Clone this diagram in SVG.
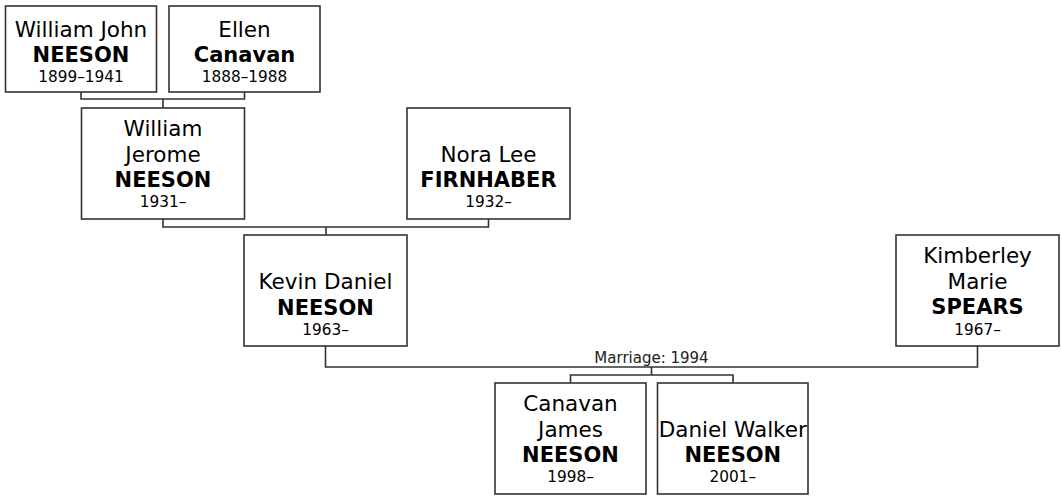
<svg xmlns="http://www.w3.org/2000/svg" width="1062" height="497" viewBox="0 0 1062 497">
<style>
.box{fill:#fff;stroke:#333;stroke-width:1.6}
.ln{fill:none;stroke:#333;stroke-width:1.6}
text{font-family:"DejaVu Sans",Verdana,sans-serif;fill:#000;text-anchor:middle}
.n{font-size:21.5px}
.b{font-size:21px;font-weight:bold}
.y{font-size:15.3px}
.m{font-size:15px;fill:#222}
</style>
<rect width="1062" height="497" fill="#fff"/>
<g id="connectors">
<path class="ln" d="M81,92V99H244.5V92M163,99V108"/>
<path class="ln" d="M163,219V227H488.5V219M326,227V235"/>
<path class="ln" d="M325.5,346V367H977.5V346"/>
<path class="ln" d="M651.5,367V375M570.5,383V375H733V383"/>
<text class="m" x="651.5" y="362.5">Marriage: 1994</text>
</g>
<g id="william-john-neeson">
<rect class="box" x="5.5" y="6" width="151" height="86"/>
<text class="n" x="81" y="36.7">William John</text>
<text class="b" x="81" y="62.3">NEESON</text>
<text class="y" x="81" y="82.3">1899–1941</text>
</g>
<g id="ellen-canavan">
<rect class="box" x="169" y="6" width="151" height="86"/>
<text class="n" x="244.5" y="36.7">Ellen</text>
<text class="b" x="244.5" y="62.3">Canavan</text>
<text class="y" x="244.5" y="82.3">1888–1988</text>
</g>
<g id="william-jerome-neeson">
<rect class="box" x="81.5" y="108" width="163" height="111"/>
<text class="n" x="163" y="135.7">William</text>
<text class="n" x="163" y="161.7">Jerome</text>
<text class="b" x="163" y="187.3">NEESON</text>
<text class="y" x="163" y="207.3">1931–</text>
</g>
<g id="nora-lee-firnhaber">
<rect class="box" x="407" y="108" width="163" height="111"/>
<text class="n" x="488.5" y="161.7">Nora Lee</text>
<text class="b" x="488.5" y="187.3">FIRNHABER</text>
<text class="y" x="488.5" y="207.3">1932–</text>
</g>
<g id="kevin-daniel-neeson">
<rect class="box" x="244" y="235" width="163" height="111"/>
<text class="n" x="325.5" y="289">Kevin Daniel</text>
<text class="b" x="325.5" y="315">NEESON</text>
<text class="y" x="325.5" y="335">1963–</text>
</g>
<g id="kimberley-marie-spears">
<rect class="box" x="896" y="235" width="163" height="111"/>
<text class="n" x="977.5" y="263.3">Kimberley</text>
<text class="n" x="977.5" y="289">Marie</text>
<text class="b" x="977.5" y="314.3">SPEARS</text>
<text class="y" x="977.5" y="335">1967–</text>
</g>
<g id="canavan-james-neeson">
<rect class="box" x="495" y="383" width="151" height="111"/>
<text class="n" x="570.5" y="410.7">Canavan</text>
<text class="n" x="570.5" y="436.7">James</text>
<text class="b" x="570.5" y="462.3">NEESON</text>
<text class="y" x="570.5" y="481.7">1998–</text>
</g>
<g id="daniel-walker-neeson">
<rect class="box" x="657.5" y="383" width="150.5" height="111"/>
<text class="n" x="732.8" y="436.7">Daniel Walker</text>
<text class="b" x="732.8" y="462.3">NEESON</text>
<text class="y" x="732.8" y="481.7">2001–</text>
</g>
</svg>
